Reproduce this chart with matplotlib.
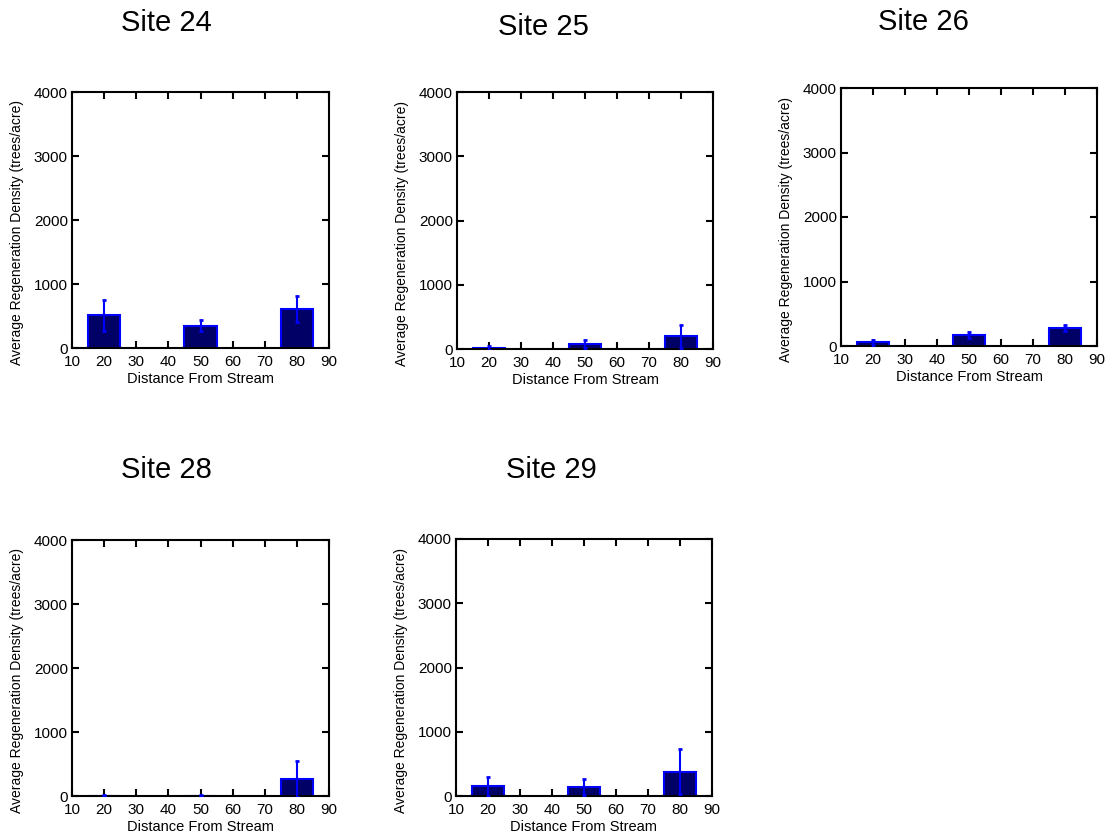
import numpy as np
import matplotlib.pyplot as plt

plt.rcParams["font.family"] = ["Liberation Sans", "DejaVu Sans"]

distances = [20, 50, 80]
sites = ["Site 24", "Site 25", "Site 26", "Site 28", "Site 29"]
site24 = [510, 350, 610]
site24_err = [240, 80, 200]
site25 = [15, 80, 200]
site25_err = [25, 60, 180]
site26 = [60, 175, 275]
site26_err = [40, 45, 45]
site28 = [5, 5, 270]
site28_err = [5, 5, 280]
site29 = [150, 140, 380]
site29_err = [150, 130, 345]

values = [site24, site25, site26, site28, site29]
errors = [site24_err, site25_err, site26_err, site28_err, site29_err]

W, H = 1113, 840
fig = plt.figure(figsize=(W / 100, H / 100), dpi=100)

# axes boxes in pixels: left, top, right, bottom
boxes = [(72, 92, 329, 348), (457, 92, 713, 349), (841, 88, 1097, 346),
         (72, 540, 329, 796), (456, 539, 712, 796)]
# title centres in pixels
title_pos = [(166, 23), (543, 27), (923, 22), (166, 470), (551, 470)]

for name, vals, errs, box, tp in zip(sites, values, errors, boxes, title_pos):
    l, t, r, b = box
    ax = fig.add_axes([l / W, 1 - b / H, (r - l) / W, (b - t) / H])
    ax.bar(distances, vals, width=10, color="#000066", edgecolor="#0000ff",
           linewidth=1.5, zorder=2)
    ax.errorbar(distances, vals, yerr=errs, fmt="none", ecolor="#0000ff",
                elinewidth=1.5, capsize=1.5, capthick=2, zorder=3)
    ax.set_xlim(10, 90)
    ax.set_ylim(0, 4000)
    ax.set_xticks(np.arange(10, 91, 10))
    ax.set_yticks([0, 1000, 2000, 3000, 4000])
    ax.tick_params(direction="in", top=True, right=True, length=5, width=1.5,
                   labelsize=11)
    ax.tick_params(axis="x", pad=5)
    ax.tick_params(axis="y", pad=3)
    for s in ax.spines.values():
        s.set_linewidth(1.5)
    ax.set_xlabel("Distance From Stream", fontsize=10.5, labelpad=2)
    ax.set_ylabel("Average Regeneration Density (trees/acre)", fontsize=10)
    ax.yaxis.set_label_coords(-48 / (r - l), 0.45)
    fig.text(tp[0] / W, 1 - tp[1] / H, name, fontsize=21, ha="center", va="center")

plt.savefig("out.png", dpi=100)
